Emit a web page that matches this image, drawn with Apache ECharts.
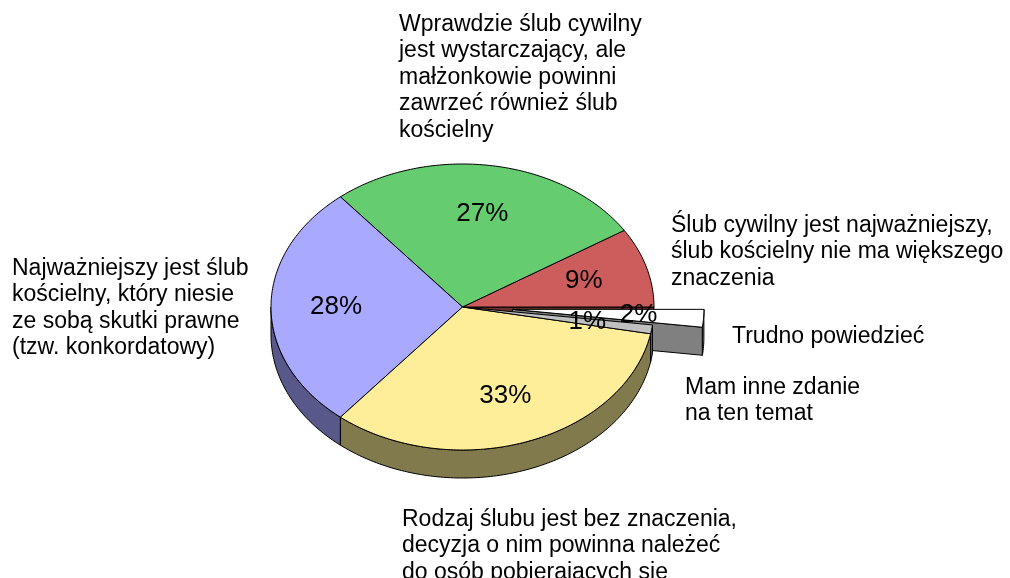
<!DOCTYPE html>
<html><head><meta charset="utf-8">
<script src="https://cdn.jsdelivr.net/npm/echarts@6/dist/echarts.min.js"></script>
<style>html,body{margin:0;padding:0;background:#fff}#c{width:1010px;height:578px}</style>
</head><body><div id="c"></div>
<script>
// ---- data ----
const categories = [
  'Ślub cywilny jest najważniejszy,\nślub kościelny nie ma większego\nznaczenia',
  'Wprawdzie ślub cywilny\njest wystarczający, ale\nmałżonkowie powinni\nzawrzeć również ślub\nkościelny',
  'Najważniejszy jest ślub\nkościelny, który niesie\nze sobą skutki prawne\n(tzw. konkordatowy)',
  'Rodzaj ślubu jest bez znaczenia,\ndecyzja o nim powinna należeć\ndo osób pobierających się',
  'Mam inne zdanie\nna ten temat',
  'Trudno powiedzieć'
];
const values = [9, 27, 28, 33, 1, 2];
const exploded = [0, 0, 0, 0, 0, 1];

// ---- styles / layout ----
const topColors = ['#CD5C5C', '#66CC70', '#A9A9FF', '#FFEE99', '#C0C0C0', '#FFFFFF'];
const sideColors = ['#6A2F2F', '#356A3A', '#58588A', '#807A4C', '#626262', '#808080'];
const labelPos = [[671, 212], [399, 11], [12, 255], [402, 506], [685, 374], [732, 323]];
const FONT = '"Liberation Sans", Arial, sans-serif';
const CX = 462.5, CY = 307, RX = 191.5, RY = 143, DEPTH = 28, EXPLODE = 50, LR = 0.66;
const RAD = Math.PI / 180;

const total = values.reduce((a, b) => a + b, 0);
const starts = [];
{ let acc = 0; values.forEach(v => { starts.push(acc / total * 360); acc += v; }); }

function renderItem(params, api) {
  const n = values.length;
  const i = params.dataIndex;
  const v = api.value(0);
  const a0 = starts[i], a1 = a0 + v / total * 360, mid = (a0 + a1) / 2;
  let cx = CX, cy = CY;
  if (exploded[i]) {
    cx += EXPLODE * Math.cos(mid * RAD);
    cy -= EXPLODE * Math.sin(mid * RAD) * RY / RX;
  }
  const P = (a, dy) => [cx + RX * Math.cos(a * RAD), cy - RY * Math.sin(a * RAD) + (dy || 0)];
  const arc = (b0, b1, dy) => {
    const m = Math.max(1, Math.ceil(Math.abs(b1 - b0)));
    const r = [];
    for (let k = 0; k <= m; k++) r.push(P(b0 + (b1 - b0) * k / m, dy));
    return r;
  };
  const st = f => ({ fill: f, stroke: '#000', lineWidth: 1, lineJoin: 'round' });
  const ch = [];
  const prevEx = exploded[(i - 1 + n) % n], nextEx = exploded[(i + 1) % n];
  const face = (a) => {
    const p = P(a);
    return { type: 'polygon', z2: 1, shape: { points: [[cx, cy], p, [p[0], p[1] + DEPTH], [cx, cy + DEPTH]] }, style: st(sideColors[i]) };
  };
  if ((exploded[i] || prevEx) && Math.cos(a0 * RAD) > 0) ch.push(face(a0));
  if ((exploded[i] || nextEx) && Math.cos(a1 * RAD) < 0) ch.push(face(a1));
  const b0 = Math.max(a0, 180), b1 = Math.min(a1, 360);
  if (b1 > b0) {
    ch.push({ type: 'polygon', z2: 2, shape: { points: arc(b0, b1, 0).concat(arc(b1, b0, DEPTH)) }, style: st(sideColors[i]) });
  }
  ch.push({ type: 'polygon', z2: 3, shape: { points: [[cx, cy]].concat(arc(a0, a1, 0)) }, style: st(topColors[i]) });
  const lx = cx + LR * RX * Math.cos(mid * RAD), ly = cy - LR * RY * Math.sin(mid * RAD);
  ch.push({
    type: 'text', z2: 5, x: lx, y: ly,
    style: { text: Math.round(v / total * 100) + '%', font: '26px ' + FONT, fill: '#000',
      align: 'center', verticalAlign: 'middle', textAlign: 'center', textVerticalAlign: 'middle' }
  });
  return { type: 'group', children: ch };
}

const chart = echarts.init(document.getElementById('c'), null, { renderer: 'canvas' });
chart.setOption({
  animation: false,
  backgroundColor: '#fff',
  series: [{
    type: 'custom',
    coordinateSystem: 'none',
    data: values.map(v => [v]),
    renderItem: renderItem
  }],
  graphic: categories.map((c, i) => ({
    type: 'text', x: labelPos[i][0], y: labelPos[i][1],
    style: { text: c, font: '23px ' + FONT, fill: '#000', lineHeight: 26.5,
      align: 'left', verticalAlign: 'top', textAlign: 'left', textVerticalAlign: 'top' }
  }))
});
</script>
</body></html>
